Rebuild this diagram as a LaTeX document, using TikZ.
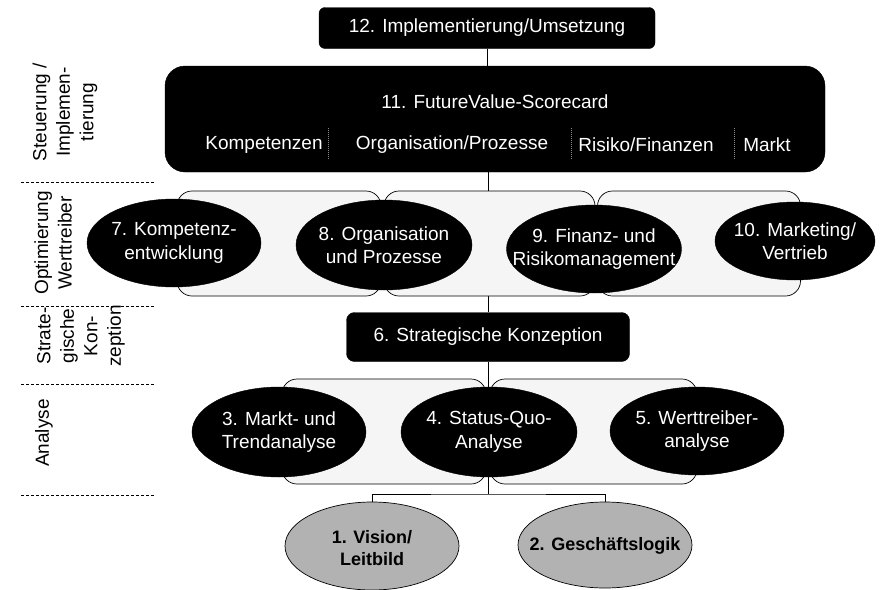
\documentclass[tikz,border=0pt]{standalone}
\usepackage{fontspec}
\setmainfont{Liberation Sans}
\usetikzlibrary{shapes.geometric,backgrounds}
\begin{document}
\begin{tikzpicture}[x=1pt,y=-1pt,
  every node/.style={font=\fontsize{19}{23.5}\selectfont},
  blk/.style={draw=black, fill=black, text=white, inner sep=0pt},
  brk/.style={draw=black, line width=0.7pt, fill=black!4, rounded corners=15pt, inner sep=0pt, minimum height=105pt},
  ell/.style={ellipse, draw=black, fill=black, inner sep=0pt},
  lite/.style={ellipse, draw=black, line width=0.7pt, fill=black!30, inner sep=0pt},
  wtxt/.style={text=white, align=center, inner sep=0pt},
  btxt/.style={text=black, align=center, inner sep=0pt, font=\fontsize{18}{22}\selectfont\bfseries},
  sidelbl/.style={rotate=90, align=center, inner sep=0pt},
  conn/.style={draw=black, line width=0.7pt},
  sepline/.style={line width=0.6pt, dash pattern=on 3pt off 2pt},
  subsep/.style={draw=black!45, line width=0.5pt, dash pattern=on 1pt off 1pt}]
\useasboundingbox (0,0) rectangle (883,589);

% left column separators
\foreach \yy in {182,306,384,495} \draw[sepline] (21,\yy) -- (155,\yy);

% left column labels
\node[sidelbl] (lsteu) at (65,112) {Steuerung /\\Implemen-\\tierung};
\node[sidelbl] (lopt) at (53,243) {Optimierung\\Werttreiber};
\node[sidelbl] (lstra) at (81,336) {Strate-\\gische\\Kon-\\zeption};
\node[sidelbl] (lana) at (44,433) {Analyse};

% top boxes
\node[blk, rounded corners=6pt, minimum width=336pt, minimum height=41pt] (b12) at (487,28) {12. Implementierung/Umsetzung};
\node[blk, rounded corners=20pt, minimum width=660pt, minimum height=106pt] (b11) at (495,119) {};
\node[wtxt] (t11) at (495,102) {11. FutureValue-Scorecard};
\node[wtxt] (s1) at (264,145) {Kompetenzen};
\node[wtxt] (s2) at (452,145) {Organisation/Prozesse};
\node[wtxt] (s3) at (646,145) {Risiko/Finanzen};
\node[wtxt] (s4) at (767,145) {Markt};
\draw[subsep] (328,128) -- (328,159);
\draw[subsep] (571,128) -- (571,159);
\draw[subsep] (734,128) -- (734,159);

% row: Optimierung Werttreiber
\node[brk, minimum width=204pt] (br1) at (279,243.5) {};
\node[brk, minimum width=211pt] (br2) at (489.5,243.5) {};
\node[brk, minimum width=203pt] (br3) at (699,243.5) {};
\node[ell, minimum width=174pt, minimum height=88pt] (e7) at (174,243) {};
\node[ell, minimum width=176pt, minimum height=90pt] (e8) at (384,245) {};
\node[ell, minimum width=175pt, minimum height=88pt] (e9) at (594,249) {};
\node[ell, minimum width=160pt, minimum height=78pt] (e10) at (795,241) {};
\node[wtxt] (t7) at (e7.center) {7. Kompetenz-\\entwicklung};
\node[wtxt] (t8) at (e8.center) {8. Organisation\\und Prozesse};
\node[wtxt] (t9) at (e9.center) {9. Finanz- und\\Risikomanagement};
\node[wtxt] (t10) at (e10.center) {10. Marketing/\\Vertrieb};

% strategic conception
\node[blk, rounded corners=8pt, minimum width=283pt, minimum height=49pt] (b6) at (488,337) {6. Strategische Konzeption};

% row: Analyse
\node[brk, minimum width=204pt] (bA) at (384,431.5) {};
\node[brk, minimum width=207pt] (bB) at (593.5,431.5) {};
\node[ell, minimum width=174pt, minimum height=90pt] (e3) at (279,432) {};
\node[ell, minimum width=176pt, minimum height=90pt] (e4) at (489,432) {};
\node[ell, minimum width=174pt, minimum height=88pt] (e5) at (697,431) {};
\node[wtxt] (t3) at (e3.center) {3. Markt- und\\Trendanalyse};
\node[wtxt] (t4) at (e4.center) {4. Status-Quo-\\Analyse};
\node[wtxt] (t5) at (e5.center) {5. Werttreiber-\\analyse};

% base
\node[lite, minimum width=174pt, minimum height=88pt] (e1) at (372,546) {};
\node[lite, minimum width=174pt, minimum height=86pt] (e2) at (605,545) {};
\node[btxt] (t1) at (372,548) {1. Vision/\\Leitbild};
\node[btxt] (t2) at (605,546) {2. Geschäftslogik};

\coordinate (cx) at (488,0);
\coordinate (jn) at (488,494);
\begin{pgfonlayer}{background}
  \draw[conn] (b12.south) -- (b12.south |- b11.north);
  \draw[conn] (b11.south -| cx) -- (b6.north);
  \draw[conn] (b6.south) -- (jn);
  \draw[conn] (e1.north) |- (jn) -| (e2.north);
\end{pgfonlayer}
\end{tikzpicture}
\end{document}
